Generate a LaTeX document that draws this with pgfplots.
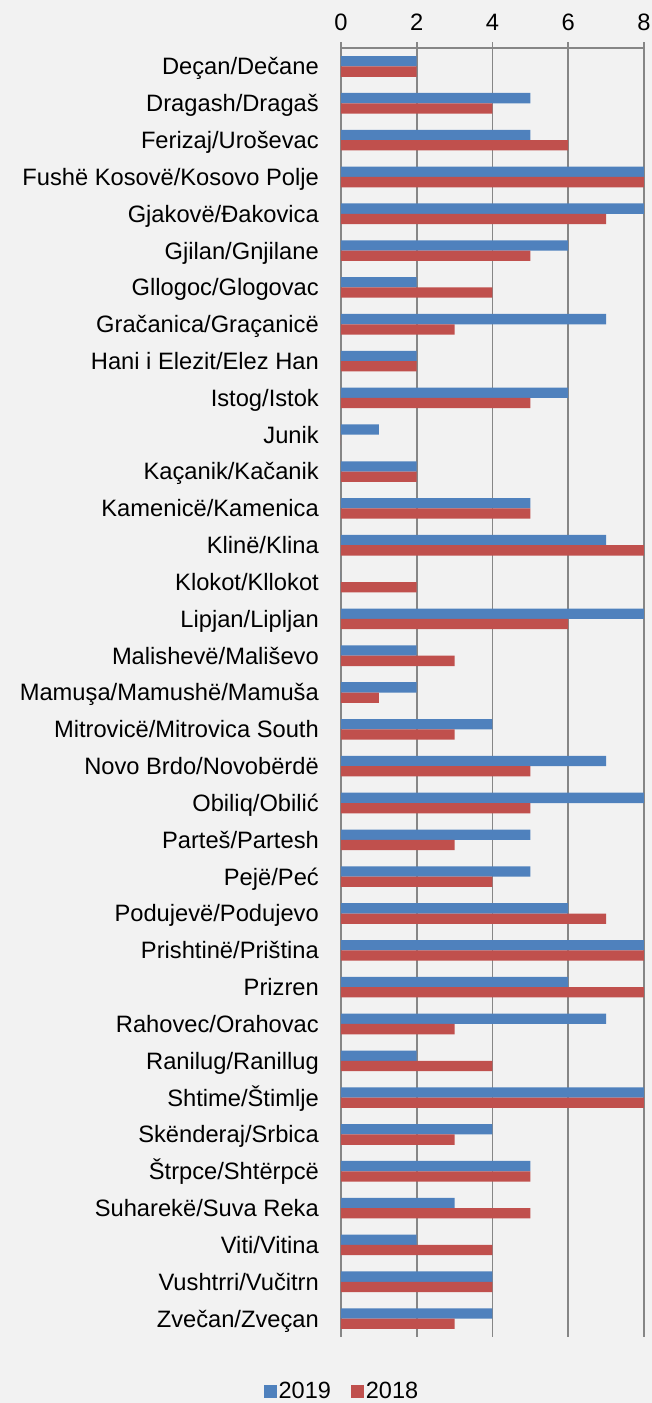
\documentclass[border=0pt]{standalone}
\usepackage{fontspec}
\setmainfont{Liberation Sans}
\usepackage{pgfplots}
\usepackage{pgfplotstable}
\pgfplotsset{compat=1.18}
\definecolor{bg}{HTML}{F2F2F2}
\definecolor{c19}{HTML}{4F81BD}
\definecolor{c18}{HTML}{C0504D}
\definecolor{gridc}{HTML}{868686}

\pgfplotstableread{
idx v2019 v2018
1 2 2
2 5 4
3 5 6
4 8 8
5 8 7
6 6 5
7 2 4
8 7 3
9 2 2
10 6 5
11 1 0
12 2 2
13 5 5
14 7 8
15 0 2
16 8 6
17 2 3
18 2 1
19 4 3
20 7 5
21 8 5
22 5 3
23 5 4
24 6 7
25 8 8
26 6 8
27 7 3
28 2 4
29 8 8
30 4 3
31 5 5
32 3 5
33 2 4
34 4 4
35 4 3
}\data

\begin{document}
\begin{tikzpicture}
\fill[bg] (0pt,0pt) rectangle (652pt,1403pt);
\useasboundingbox (0pt,0pt) rectangle (652pt,1403pt);
\begin{axis}[
  at={(341pt,66pt)}, anchor=south west,
  scale only axis, width=303pt, height=1289pt,
  xbar, bar width=10.3pt,
  xmin=0, xmax=8, ymin=0.5, ymax=35.5, y dir=reverse,
  axis x line*=top, axis y line*=left,
  axis line style={gridc, line width=1.8pt},
  xtick={0,2,4,6,8},
  xmajorgrids, major grid style={gridc, line width=1.8pt},
  tick align=outside, major tick length=6pt,
  x tick style={gridc, line width=1.8pt},
  ytick={1,...,35}, y tick style={draw=none},
  yticklabels={Deçan/Dečane, Dragash/Dragaš, Ferizaj/Uroševac, Fushë Kosovë/Kosovo Polje, Gjakovë/Đakovica, Gjilan/Gnjilane, Gllogoc/Glogovac, Gračanica/Graçanicë, Hani i Elezit/Elez Han, Istog/Istok, Junik, Kaçanik/Kačanik, Kamenicë/Kamenica, Klinë/Klina, Klokot/Kllokot, Lipjan/Lipljan, Malishevë/Mališevo, Mamuşa/Mamushë/Mamuša, Mitrovicë/Mitrovica South, Novo Brdo/Novobërdë, Obiliq/Obilić, Parteš/Partesh, Pejë/Peć, Podujevë/Podujevo, Prishtinë/Priština, Prizren, Rahovec/Orahovac, Ranilug/Ranillug, Shtime/Štimlje, Skënderaj/Srbica, Štrpce/Shtërpcë, Suharekë/Suva Reka, Viti/Vitina, Vushtrri/Vučitrn, Zvečan/Zveçan},
  every tick label/.append style={font=\fontsize{23.7}{28}\selectfont},
  /pgf/number format/assume math mode=true,
  yticklabel style={anchor=base east, inner sep=0pt, xshift=-16pt, yshift=-8.4pt},
  xticklabel style={anchor=base, inner sep=0pt, yshift=12pt},
  legend style={at={(axis description cs:0.003,-0.042)}, anchor=center, draw=none, fill=none,
    legend columns=2, font=\fontsize{23.5}{28}\selectfont,
    /tikz/every even column/.append style={column sep=18pt}},
  legend image code/.code={\fill[#1] (0pt,-6.5pt) rectangle (13pt,6.5pt);},
]
\addplot[fill=c19, draw=none, bar shift=5.15pt] table[x=v2019, y=idx] {\data};
\addplot[fill=c18, draw=none, bar shift=-5.15pt] table[x=v2018, y=idx] {\data};
\legend{2019, 2018}
\end{axis}
\end{tikzpicture}
\end{document}
